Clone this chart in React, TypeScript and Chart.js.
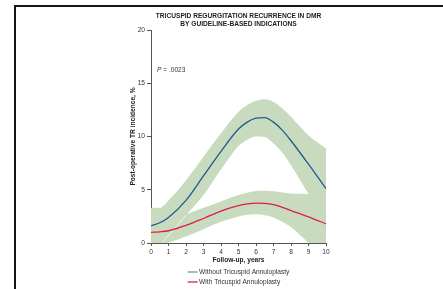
import React, { useEffect, useRef } from "react";
import { Chart, registerables } from "chart.js";

Chart.register(...registerables);

// ---- data ----
const years = [0, 0.5, 1, 2, 3, 4, 5, 5.5, 6, 6.5, 7, 7.5, 8, 9, 10];
const withoutTA = [1.6, 1.9, 2.4, 4.0, 6.3, 8.6, 10.7, 11.35, 11.72, 11.78, 11.35, 10.6, 9.6, 7.4, 5.1];
const withoutUpper = [3.3, 3.3, 4.0, 5.9, 8.1, 10.3, 12.3, 12.95, 13.35, 13.5, 13.25, 12.65, 11.85, 10.1, 8.9];
const withoutLower = [-1.2, -0.25, 0.7, 2.6, 4.5, 6.9, 9.1, 9.7, 10.0, 9.95, 9.35, 8.5, 7.3, 4.6, 2.0];
const withTA = [1.0, 1.05, 1.15, 1.65, 2.3, 3.0, 3.5, 3.67, 3.75, 3.72, 3.6, 3.35, 3.05, 2.45, 1.8];
const withUpper = [1.9, 2.0, 2.1, 2.7, 3.3, 3.9, 4.5, 4.72, 4.88, 4.9, 4.85, 4.75, 4.65, 4.6, 4.5];
const withLower = [-0.4, -0.15, 0.05, 0.6, 1.3, 2.0, 2.5, 2.65, 2.7, 2.6, 2.4, 2.0, 1.5, 0.0, -1.5];

const xTickValues = [0, 1, 2, 3, 4, 5, 6, 7, 8, 9, 10];
const yTickValues = [0, 5, 10, 15, 20];

const titleLines = ["TRICUSPID REGURGITATION RECURRENCE IN DMR", "BY GUIDELINE-BASED INDICATIONS"];
const legendLabels = ["Without Tricuspid Annuloplasty", "With Tricuspid Annuloplasty"];
const xTitle = "Follow-up, years";
const yTitle = "Post-operative TR incidence, %";
const pLabel = "P";
const pValue = " = .0023";
const pAt = 16.25;

const FONT = "'Liberation Sans', Arial, Helvetica, sans-serif";
const BLUE = "#1f5a8e";
const BLUE_LEGEND = "#6a98c6";
const RED = "#de1d4c";
const GREEN = "#c8dbbe";

const pts = (ys: number[]) => years.map((x, i) => ({ x, y: ys[i] }));

const overlayPlugin = {
  id: "overlay",
  afterDraw(chart: any) {
    const { ctx, chartArea } = chart;
    const cx = (chartArea.left + chartArea.right) / 2;
    ctx.save();
    // title
    ctx.fillStyle = "#222";
    ctx.font = `bold 6.6px ${FONT}`;
    ctx.textAlign = "center";
    ctx.textBaseline = "middle";
    titleLines.forEach((t, i) => ctx.fillText(t, cx, 16 + i * 8.6));

    // P value
    const yS = chart.scales.y;
    const py = yS.getPixelForValue(pAt);
    ctx.textAlign = "left";
    ctx.font = `italic 6.6px ${FONT}`;
    ctx.fillStyle = "#333";
    const px = chartArea.left + 6;
    ctx.fillText(pLabel, px, py);
    const pw = ctx.measureText(pLabel).width;
    ctx.font = `6.6px ${FONT}`;
    ctx.fillText(pValue, px + pw, py);

    // legend
    ctx.font = `6.6px ${FONT}`;
    const lineLen = 10;
    const gap = 1.5;
    const maxW = Math.max(...legendLabels.map((l) => ctx.measureText(l).width));
    const total = lineLen + gap + maxW;
    const sx = cx - total / 2;
    const colors = [BLUE_LEGEND, RED];
    legendLabels.forEach((l, i) => {
      const y = 272 + i * 10;
      ctx.strokeStyle = colors[i];
      ctx.lineWidth = 1.3;
      ctx.beginPath();
      ctx.moveTo(sx, y);
      ctx.lineTo(sx + lineLen, y);
      ctx.stroke();
      ctx.fillStyle = "#333";
      ctx.fillText(l, sx + lineLen + gap, y);
    });
    ctx.restore();
  },
};

export default function App() {
  const ref = useRef<HTMLCanvasElement | null>(null);

  useEffect(() => {
    if (!ref.current) return;
    const chart = new Chart(ref.current, {
      type: "line",
      data: {
        datasets: [
          {
            label: legendLabels[0],
            data: pts(withoutTA),
            borderColor: BLUE,
            borderWidth: 1.3,
            pointRadius: 0,
            fill: false,
            cubicInterpolationMode: "monotone",
          },
          {
            label: legendLabels[1],
            data: pts(withTA),
            borderColor: RED,
            borderWidth: 1.3,
            pointRadius: 0,
            fill: false,
            cubicInterpolationMode: "monotone",
          },
          {
            label: "without lower",
            data: pts(withoutLower),
            borderWidth: 0.8,
            borderColor: "rgba(255,255,255,0)",
            segment: {
              borderColor: (c: any) => (c.p1.parsed.x <= 2 ? "rgba(255,255,255,0.9)" : "rgba(255,255,255,0)"),
            },
            pointRadius: 0,
            fill: false,
            cubicInterpolationMode: "monotone",
          },
          {
            label: "without upper",
            data: pts(withoutUpper),
            borderWidth: 0,
            borderColor: "rgba(0,0,0,0)",
            backgroundColor: GREEN,
            pointRadius: 0,
            fill: "-1",
            cubicInterpolationMode: "monotone",
          },
          {
            label: "with upper",
            data: pts(withUpper),
            borderWidth: 0,
            borderColor: "rgba(0,0,0,0)",
            backgroundColor: GREEN,
            pointRadius: 0,
            fill: "+1",
            cubicInterpolationMode: "monotone",
          },
          {
            label: "with lower",
            data: pts(withLower),
            borderWidth: 0,
            borderColor: "rgba(0,0,0,0)",
            pointRadius: 0,
            fill: false,
            cubicInterpolationMode: "monotone",
          },
        ] as any,
      },
      options: {
        responsive: false,
        animation: false,
        events: [],
        layout: { padding: { top: 30, right: 117, left: 0, bottom: 0 } },
        plugins: {
          legend: { display: false },
          title: { display: false },
          tooltip: { enabled: false },
        },
        scales: {
          x: {
            type: "linear",
            min: 0,
            max: 10,
            afterBuildTicks: (s: any) => {
              s.ticks = xTickValues.map((v) => ({ value: v }));
            },
            afterFit: (s: any) => {
              s.height = 46;
            },
            ticks: {
              autoSkip: false,
              maxRotation: 0,
              padding: 2,
              color: "#333",
              font: { family: FONT, size: 6.6 },
            },
            grid: { drawOnChartArea: false, drawTicks: true, tickLength: 3, color: "#555", lineWidth: 1 },
            border: { display: true, color: "#555", width: 1 },
            title: {
              display: true,
              text: xTitle,
              color: "#222",
              font: { family: FONT, size: 6.6, weight: "bold" },
              padding: { top: 0, bottom: 24.5 },
            },
          },
          y: {
            type: "linear",
            min: 0,
            max: 20,
            afterBuildTicks: (s: any) => {
              s.ticks = yTickValues.map((v) => ({ value: v }));
            },
            afterFit: (s: any) => {
              s.width = 151;
            },
            ticks: {
              padding: 2,
              color: "#333",
              font: { family: FONT, size: 6.6 },
            },
            grid: { drawOnChartArea: false, drawTicks: true, tickLength: 4, color: "#555", lineWidth: 1 },
            border: { display: true, color: "#555", width: 1 },
            title: {
              display: true,
              text: yTitle,
              color: "#222",
              font: { family: FONT, size: 6.6, weight: "bold" },
              padding: { top: 129, bottom: 0 },
            },
          },
        },
      } as any,
      plugins: [overlayPlugin],
    });
    return () => chart.destroy();
  }, []);

  return (
    <div style={{ position: "absolute", left: 0, top: 0, width: 443, height: 289, background: "#fff", overflow: "hidden" }}>
      <div
        style={{
          position: "absolute",
          left: 14,
          top: 5,
          width: 460,
          height: 300,
          borderTop: "2px solid #161616",
          borderLeft: "2px solid #161616",
        }}
      />
      <canvas ref={ref} width={443} height={289} style={{ position: "absolute", left: 0, top: 0, width: 443, height: 289 }} />
    </div>
  );
}
